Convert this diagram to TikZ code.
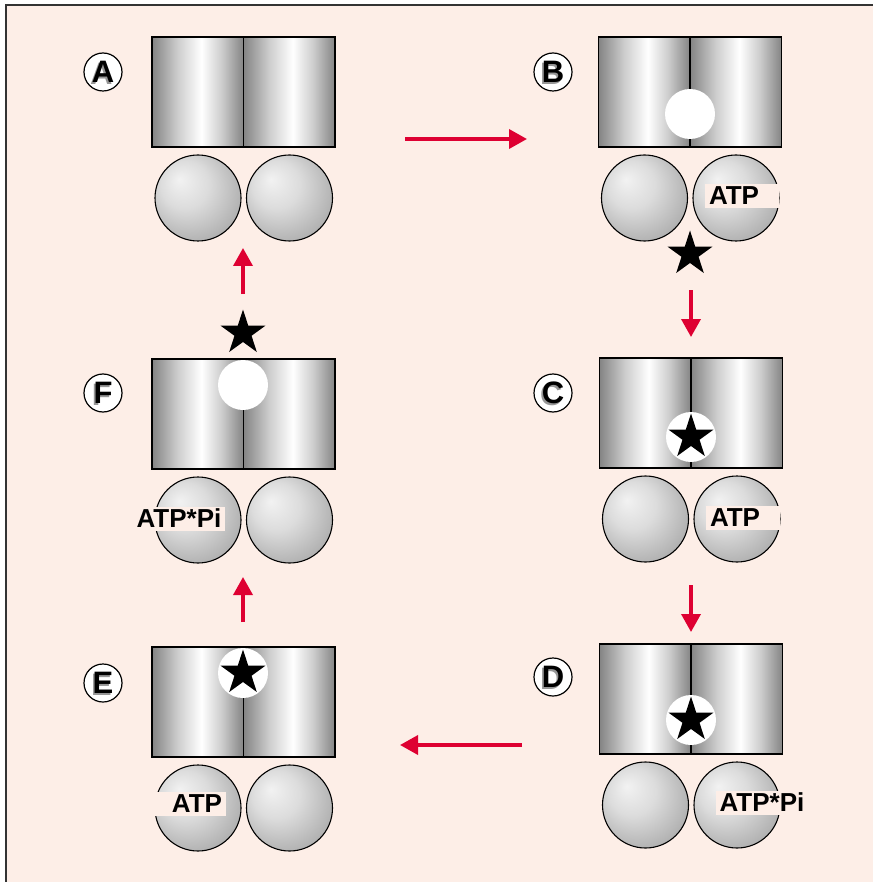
\documentclass[tikz,border=0pt]{standalone}
\usepackage{fontspec}
\setmainfont{Liberation Sans}
\usetikzlibrary{shapes.geometric,arrows.meta,calc}

\definecolor{bg}{RGB}{253,238,231}
\definecolor{cylDark}{RGB}{132,132,132}
\definecolor{cylMid}{RGB}{205,205,205}
\definecolor{arrowred}{RGB}{222,0,50}
\definecolor{sphLight}{RGB}{242,242,242}
\definecolor{sphMid}{RGB}{220,220,220}
\definecolor{sphDark}{RGB}{178,178,178}
\definecolor{tagshadow}{RGB}{150,150,150}

% metallic half-cylinder: dark edges, bright band a little right of centre
\pgfdeclarehorizontalshading{cylshade}{100bp}{%
  color(0bp)=(cylDark); color(25bp)=(cylDark); color(39bp)=(cylMid);
  color(52bp)=(white); color(63bp)=(cylMid); color(75bp)=(cylDark);
  color(100bp)=(cylDark)}
% sphere lit from the upper left
\pgfdeclareradialshading{sphshade}{\pgfpoint{-11bp}{11bp}}{%
  color(0bp)=(sphLight); color(14bp)=(sphMid); color(30bp)=(sphDark);
  color(50bp)=(sphDark)}

\tikzset{
  half/.style={draw=black, line width=1.3pt, shading=cylshade,
    minimum width=91.5pt, minimum height=110pt, inner sep=0pt},
  sphere/.style={circle, draw=black, line width=1.1pt, shading=sphshade,
    minimum size=86pt, inner sep=0pt},
  pocket/.style={circle, fill=white, minimum size=50pt, inner sep=0pt},
  starmark/.style={star, star points=5, star point ratio=2.618, fill=black,
    minimum size=47pt, inner sep=0pt},
  molecule/.style={fill=bg, font=\bfseries\fontsize{26}{26}\selectfont,
    inner xsep=4pt, inner ysep=2pt, text height=18.5pt, text depth=2pt},
  tagring/.style={circle, draw=black, fill=white, line width=1.2pt,
    minimum size=38pt, inner sep=0pt},
  tagtext/.style={font=\bfseries\fontsize{31}{31}\selectfont},
  step arrow/.style={draw=arrowred, line width=3.6pt,
    -{Triangle[length=18pt, width=19pt]}},
}

% one motor state: two shaded half-cylinders over two spheres
\newcommand\drawpanel[3]{%
  \node[half] (#1L) at (#2-45.75, #3+55) {};
  \node[half] (#1R) at (#2+45.75, #3+55) {};
  \node[sphere] (#1s1) at (#2-45.5, #3+161) {};
  \node[sphere] (#1s2) at (#2+46, #3+161) {};
}
% circled state letter with a soft grey shadow
\newcommand\statetag[3]{%
  \node[tagring] (#1) at (#2,#3) {};
  \node[tagtext, text=tagshadow] at (#2-1.6,#3+1.8) {#1};
  \node[tagtext] at (#2,#3) {#1};
}

\begin{document}
\begin{tikzpicture}[x=1pt, y=-1pt]
  \useasboundingbox (0,0) rectangle (873,882);
  \fill[bg] (6,5) rectangle (873,882);
  \draw[line width=1.6pt, draw=black!80] (6,882) -- (6,5) -- (873,5);

  % states
  \drawpanel{A}{243.5}{37}
  \drawpanel{B}{690}{37}
  \drawpanel{C}{691}{358}
  \drawpanel{D}{691}{644}
  \drawpanel{E}{243.5}{647}
  \drawpanel{F}{243.5}{359}

  \statetag{A}{103}{72}
  \statetag{B}{553}{72}
  \statetag{C}{553}{393}
  \statetag{D}{553}{677}
  \statetag{E}{103}{683}
  \statetag{F}{103}{393}

  % B: empty pocket, ATP bound, free ligand leaving below
  \node[pocket] (Bpocket) at (690,114) {};
  \node[molecule, text width=66pt, align=left] (Batp) at (742,196) {ATP};
  \node[starmark] (Bstar) at (690,254) {};

  % C: ligand in the pocket, ATP bound
  \node[pocket] (Cpocket) at (691,437) {};
  \node[starmark] at (Cpocket) {};
  \node[molecule, text width=66pt, align=left] (Catp) at (743,518) {ATP};

  % D: ligand in the pocket, ATP hydrolysed
  \node[pocket] (Dpocket) at (691,720) {};
  \node[starmark] at (Dpocket) {};
  \node[molecule] (Dadp) at (762,803) {ATP*Pi};

  % E: ligand at the top of the pocket, ATP on the left sphere
  \node[pocket] (Epocket) at (243,673) {};
  \node[starmark] at (Epocket) {};
  \node[molecule, text width=65pt, align=right] (Eatp) at (189.5,804) {ATP};

  % F: empty pocket at the top, ATP*Pi on the left sphere, ligand released
  \node[pocket] (Fpocket) at (243,385) {};
  \node[molecule] (Fadp) at (179,519) {ATP*Pi};
  \node[starmark] (Fstar) at (243,333) {};

  % cycle arrows
  \coordinate (ab1) at (405,139);  \coordinate (ab2) at (527,139);
  \coordinate (bc1) at (691,290);  \coordinate (bc2) at (691,337);
  \coordinate (cd1) at (691,585);  \coordinate (cd2) at (691,632);
  \coordinate (de1) at (522,745);  \coordinate (de2) at (400,745);
  \coordinate (ef1) at (243,622);  \coordinate (ef2) at (243,577);
  \coordinate (fa1) at (243,294);  \coordinate (fa2) at (243,248);
  \draw[step arrow] (ab1) -- (ab2);
  \draw[step arrow] (bc1) -- (bc2);
  \draw[step arrow] (cd1) -- (cd2);
  \draw[step arrow] (de1) -- (de2);
  \draw[step arrow] (ef1) -- (ef2);
  \draw[step arrow] (fa1) -- (fa2);
\end{tikzpicture}
\end{document}
